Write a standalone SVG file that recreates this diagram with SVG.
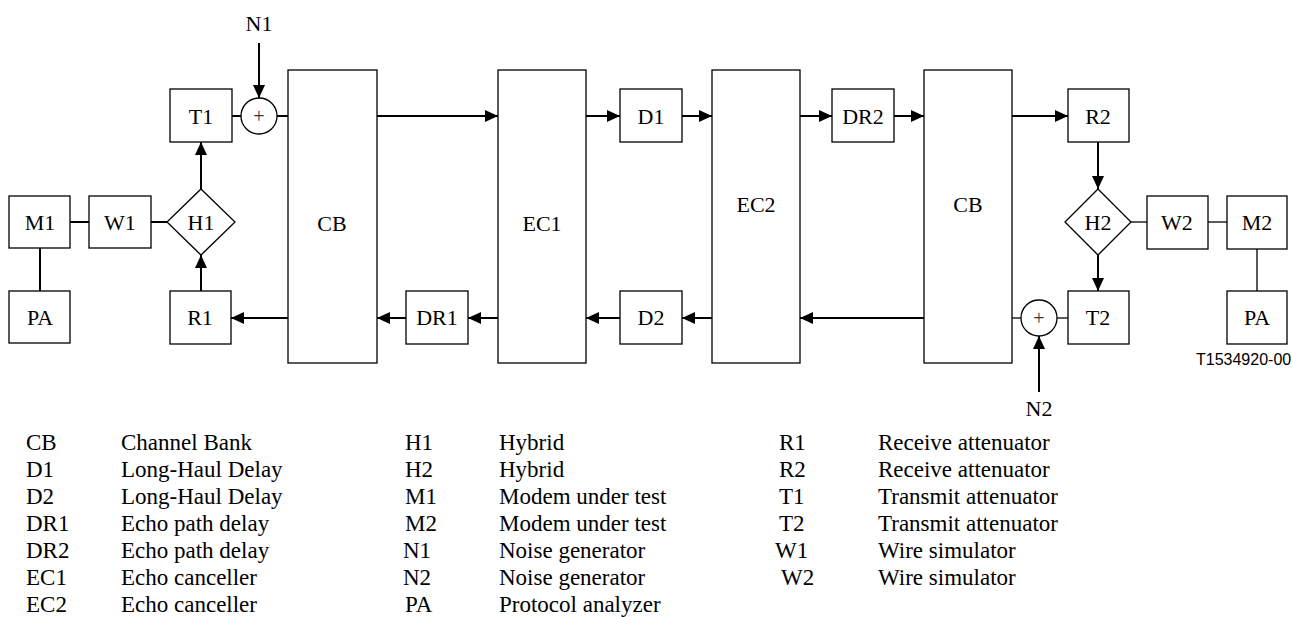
<svg xmlns="http://www.w3.org/2000/svg" width="1292" height="617" viewBox="0 0 1292 617">
  <style>
    .box { fill: #fff; stroke: #000; stroke-width: 1.3; }
    .lbl { font-family: 'Liberation Serif', 'DejaVu Serif', serif; font-size: 22px; fill: #000; text-anchor: middle; dominant-baseline: central; }
    .sum { font-family: 'Liberation Serif', 'DejaVu Serif', serif; font-size: 20px; fill: #333; text-anchor: middle; dominant-baseline: central; }
    .wire { fill: none; stroke: #000; stroke-width: 2; }
    .thin { fill: none; stroke: #000; stroke-width: 1.3; }
    .arr { marker-end: url(#ah); }
    .leg { font-family: 'Liberation Serif', 'DejaVu Serif', serif; font-size: 23px; fill: #000; }
    .ref { font-family: 'Liberation Sans', Arial, sans-serif; font-size: 16px; fill: #000; }
  </style>
  <defs>
    <marker id="ah" markerUnits="userSpaceOnUse" markerWidth="13" markerHeight="12" refX="13" refY="6" orient="auto">
      <path d="M0,0 L13,6 L0,12 z" fill="#000"/>
    </marker>
  </defs>
  <rect width="1292" height="617" fill="#fff"/>

  <!-- connectors -->
  <g id="connectors">
    <!-- left terminal -->
    <line class="wire" x1="70" y1="222" x2="89" y2="222"/>
    <line class="wire" x1="151" y1="222" x2="167" y2="222"/>
    <line class="wire" x1="40" y1="248" x2="40" y2="291"/>
    <line class="wire arr" x1="201" y1="189" x2="201" y2="142"/>
    <line class="wire arr" x1="201" y1="291" x2="201" y2="255"/>
    <line class="wire" x1="232" y1="116" x2="241" y2="116"/>
    <line class="wire" x1="277" y1="116" x2="288" y2="116"/>
    <line class="wire arr" x1="259" y1="43" x2="259" y2="98"/>
    <!-- forward path -->
    <line class="wire arr" x1="377" y1="116" x2="498" y2="116"/>
    <line class="wire arr" x1="586" y1="116" x2="620" y2="116"/>
    <line class="wire arr" x1="682" y1="116" x2="712" y2="116"/>
    <line class="wire arr" x1="800" y1="116" x2="832" y2="116"/>
    <line class="wire arr" x1="894" y1="116" x2="924" y2="116"/>
    <line class="wire arr" x1="1012" y1="116" x2="1068" y2="116"/>
    <!-- return path -->
    <line class="wire arr" x1="924" y1="318" x2="800" y2="318"/>
    <line class="wire arr" x1="712" y1="318" x2="682" y2="318"/>
    <line class="wire arr" x1="620" y1="318" x2="586" y2="318"/>
    <line class="wire arr" x1="498" y1="318" x2="468" y2="318"/>
    <line class="wire arr" x1="406" y1="318" x2="377" y2="318"/>
    <line class="wire arr" x1="288" y1="318" x2="231" y2="318"/>
    <!-- right terminal -->
    <line class="thin" x1="1012" y1="318" x2="1021" y2="318"/>
    <line class="thin" x1="1057" y1="318" x2="1068" y2="318"/>
    <line class="wire arr" x1="1039" y1="392" x2="1039" y2="336"/>
    <line class="wire arr" x1="1098" y1="142" x2="1098" y2="189"/>
    <line class="wire arr" x1="1098" y1="255" x2="1098" y2="291"/>
    <line class="thin" x1="1131" y1="222" x2="1147" y2="222"/>
    <line class="thin" x1="1208" y1="222" x2="1227" y2="222"/>
    <line class="thin" x1="1257" y1="249" x2="1257" y2="291"/>
  </g>

  <!-- left terminal nodes -->
  <g id="M1"><rect class="box" x="9" y="196" width="61" height="52"/><text class="lbl" x="40" y="222">M1</text></g>
  <g id="PA1"><rect class="box" x="9" y="291" width="61" height="52"/><text class="lbl" x="40" y="317">PA</text></g>
  <g id="W1"><rect class="box" x="89" y="196" width="62" height="52"/><text class="lbl" x="120" y="222">W1</text></g>
  <g id="H1"><polygon class="box" points="201,189 235,222 201,255 167,222"/><text class="lbl" x="201" y="222">H1</text></g>
  <g id="T1"><rect class="box" x="170" y="89" width="62" height="53"/><text class="lbl" x="201" y="116">T1</text></g>
  <g id="R1"><rect class="box" x="170" y="291" width="61" height="53"/><text class="lbl" x="200" y="317">R1</text></g>
  <g id="S1"><circle class="box" cx="259" cy="116" r="18"/><text class="sum" x="259" y="116">+</text></g>
  <g id="N1"><text class="lbl" x="259" y="23">N1</text></g>

  <!-- exchange chain -->
  <g id="CB1"><rect class="box" x="288" y="70" width="89" height="293"/><text class="lbl" x="332" y="223">CB</text></g>
  <g id="DR1"><rect class="box" x="406" y="291" width="62" height="53"/><text class="lbl" x="437" y="317">DR1</text></g>
  <g id="EC1"><rect class="box" x="498" y="70" width="88" height="293"/><text class="lbl" x="542" y="223">EC1</text></g>
  <g id="D1"><rect class="box" x="620" y="89" width="62" height="53"/><text class="lbl" x="651" y="116">D1</text></g>
  <g id="D2"><rect class="box" x="620" y="291" width="62" height="53"/><text class="lbl" x="651" y="317">D2</text></g>
  <g id="EC2"><rect class="box" x="712" y="70" width="88" height="293"/><text class="lbl" x="756" y="204">EC2</text></g>
  <g id="DR2"><rect class="box" x="832" y="89" width="62" height="53"/><text class="lbl" x="863" y="116">DR2</text></g>
  <g id="CB2"><rect class="box" x="924" y="70" width="88" height="293"/><text class="lbl" x="968" y="204">CB</text></g>

  <!-- right terminal nodes -->
  <g id="S2"><circle class="box" cx="1039" cy="318" r="18"/><text class="sum" x="1039" y="318">+</text></g>
  <g id="N2"><text class="lbl" x="1039" y="408">N2</text></g>
  <g id="R2"><rect class="box" x="1068" y="89" width="61" height="53"/><text class="lbl" x="1098" y="116">R2</text></g>
  <g id="T2"><rect class="box" x="1068" y="291" width="61" height="53"/><text class="lbl" x="1098" y="317">T2</text></g>
  <g id="H2"><polygon class="box" points="1098,189 1131,222 1098,255 1065,222"/><text class="lbl" x="1098" y="222">H2</text></g>
  <g id="W2"><rect class="box" x="1147" y="196" width="61" height="53"/><text class="lbl" x="1177" y="222">W2</text></g>
  <g id="M2"><rect class="box" x="1227" y="196" width="60" height="53"/><text class="lbl" x="1257" y="222">M2</text></g>
  <g id="PA2"><rect class="box" x="1227" y="291" width="60" height="53"/><text class="lbl" x="1257" y="317">PA</text></g>

  <text class="ref" x="1196" y="365">T1534920-00</text>

  <!-- legend -->
  <g id="legend" class="leg">
    <text x="26" y="450">CB</text><text x="121" y="450">Channel Bank</text>
    <text x="26" y="477">D1</text><text x="121" y="477">Long-Haul Delay</text>
    <text x="26" y="504">D2</text><text x="121" y="504">Long-Haul Delay</text>
    <text x="26" y="531">DR1</text><text x="121" y="531">Echo path delay</text>
    <text x="26" y="558">DR2</text><text x="121" y="558">Echo path delay</text>
    <text x="26" y="585">EC1</text><text x="121" y="585">Echo canceller</text>
    <text x="26" y="612">EC2</text><text x="121" y="612">Echo canceller</text>

    <text x="405" y="450">H1</text><text x="499" y="450">Hybrid</text>
    <text x="405" y="477">H2</text><text x="499" y="477">Hybrid</text>
    <text x="405" y="504">M1</text><text x="499" y="504">Modem under test</text>
    <text x="405" y="531">M2</text><text x="499" y="531">Modem under test</text>
    <text x="403" y="558">N1</text><text x="499" y="558">Noise generator</text>
    <text x="403" y="585">N2</text><text x="499" y="585">Noise generator</text>
    <text x="405" y="612">PA</text><text x="499" y="612">Protocol analyzer</text>

    <text x="779" y="450">R1</text><text x="878" y="450">Receive attenuator</text>
    <text x="779" y="477">R2</text><text x="878" y="477">Receive attenuator</text>
    <text x="779" y="504">T1</text><text x="878" y="504">Transmit attenuator</text>
    <text x="779" y="531">T2</text><text x="878" y="531">Transmit attenuator</text>
    <text x="775" y="558">W1</text><text x="878" y="558">Wire simulator</text>
    <text x="781" y="585">W2</text><text x="878" y="585">Wire simulator</text>
  </g>
</svg>
